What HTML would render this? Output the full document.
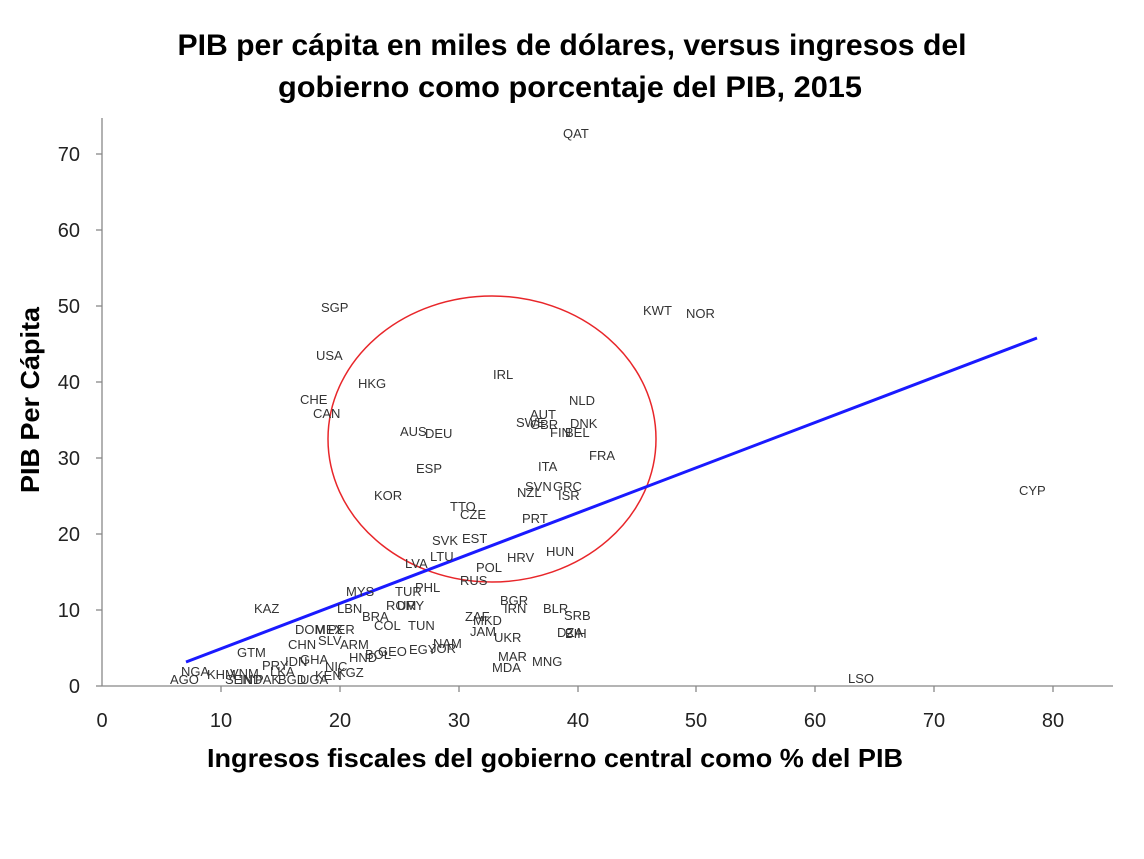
<!DOCTYPE html><html><head><meta charset="utf-8"><style>body{margin:0;background:#fff}svg{display:block}</style></head><body>
<svg width="1144" height="859" xmlns="http://www.w3.org/2000/svg" font-family="Liberation Sans, sans-serif">
<text x="572" y="55" font-size="30" font-weight="bold" text-anchor="middle" fill="#000" textLength="789" lengthAdjust="spacingAndGlyphs">PIB per cápita en miles de dólares, versus ingresos del</text>
<text x="570" y="97" font-size="30" font-weight="bold" text-anchor="middle" fill="#000" textLength="584" lengthAdjust="spacingAndGlyphs">gobierno como porcentaje del PIB, 2015</text>
<g stroke="#888" stroke-width="1.3">
<line x1="102" y1="118" x2="102" y2="686"/><line x1="102" y1="686" x2="1113" y2="686"/>
<line x1="96" y1="154" x2="102" y2="154"/><line x1="96" y1="230" x2="102" y2="230"/><line x1="96" y1="306" x2="102" y2="306"/><line x1="96" y1="382" x2="102" y2="382"/><line x1="96" y1="458" x2="102" y2="458"/><line x1="96" y1="534" x2="102" y2="534"/><line x1="96" y1="610" x2="102" y2="610"/><line x1="96" y1="686" x2="102" y2="686"/>
<line x1="221" y1="686" x2="221" y2="692"/><line x1="340" y1="686" x2="340" y2="692"/><line x1="459" y1="686" x2="459" y2="692"/><line x1="578" y1="686" x2="578" y2="692"/><line x1="696" y1="686" x2="696" y2="692"/><line x1="815" y1="686" x2="815" y2="692"/><line x1="934" y1="686" x2="934" y2="692"/><line x1="1053" y1="686" x2="1053" y2="692"/>
</g>
<g font-size="20" fill="#222" text-anchor="end">
<text x="80" y="161">70</text><text x="80" y="237">60</text><text x="80" y="313">50</text><text x="80" y="389">40</text><text x="80" y="465">30</text><text x="80" y="541">20</text><text x="80" y="617">10</text><text x="80" y="693">0</text>
</g>
<g font-size="20" fill="#222" text-anchor="middle">
<text x="102" y="727">0</text><text x="221" y="727">10</text><text x="340" y="727">20</text><text x="459" y="727">30</text><text x="578" y="727">40</text><text x="696" y="727">50</text><text x="815" y="727">60</text><text x="934" y="727">70</text><text x="1053" y="727">80</text>
</g>
<text x="555" y="767" font-size="26" font-weight="bold" text-anchor="middle" textLength="696" lengthAdjust="spacingAndGlyphs">Ingresos fiscales del gobierno central como % del PIB</text>
<text transform="translate(39,400) rotate(-90)" font-size="26" font-weight="bold" text-anchor="middle" textLength="186" lengthAdjust="spacingAndGlyphs">PIB Per Cápita</text>
<ellipse cx="492" cy="439" rx="164" ry="143" fill="none" stroke="#e8262a" stroke-width="1.5"/>
<line x1="186" y1="662" x2="1037" y2="338" stroke="#1a1aff" stroke-width="3"/>
<g font-size="13" fill="#333">
<text x="563" y="138">QAT</text><text x="321" y="312">SGP</text><text x="643" y="315">KWT</text><text x="686" y="318">NOR</text>
<text x="316" y="360">USA</text><text x="493" y="379">IRL</text><text x="358" y="388">HKG</text><text x="569" y="405">NLD</text>
<text x="300" y="404">CHE</text><text x="313" y="418">CAN</text><text x="530" y="419">AUT</text><text x="516" y="427">SWE</text><text x="530" y="429">GBR</text><text x="570" y="428">DNK</text><text x="550" y="437">FIN</text><text x="565" y="437">BEL</text>
<text x="400" y="436">AUS</text><text x="425" y="438">DEU</text><text x="589" y="460">FRA</text><text x="538" y="471">ITA</text><text x="416" y="473">ESP</text>
<text x="517" y="497">NZL</text><text x="525" y="491">SVN</text><text x="553" y="491">GRC</text><text x="558" y="500">ISR</text><text x="1019" y="495">CYP</text><text x="374" y="500">KOR</text>
<text x="450" y="511">TTO</text><text x="460" y="519">CZE</text><text x="522" y="523">PRT</text><text x="432" y="545">SVK</text><text x="462" y="543">EST</text><text x="546" y="556">HUN</text><text x="507" y="562">HRV</text>
<text x="405" y="568">LVA</text><text x="430" y="561">LTU</text><text x="476" y="572">POL</text><text x="460" y="585">RUS</text>
<text x="346" y="596">MYS</text><text x="395" y="596">TUR</text><text x="415" y="592">PHL</text><text x="254" y="613">KAZ</text><text x="337" y="613">LBN</text><text x="386" y="610">ROM</text><text x="397" y="610">URY</text>
<text x="500" y="605">BGR</text><text x="504" y="613">IRN</text><text x="543" y="613">BLR</text><text x="564" y="620">SRB</text><text x="362" y="621">BRA</text>
<text x="465" y="621">ZAF</text><text x="473" y="625">MKD</text><text x="374" y="630">COL</text><text x="408" y="630">TUN</text>
<text x="295" y="634">DOM</text><text x="315" y="634">MEX</text><text x="328" y="634">PER</text><text x="470" y="636">JAM</text><text x="494" y="642">UKR</text><text x="557" y="637">DZA</text><text x="565" y="638">BIH</text>
<text x="288" y="649">CHN</text><text x="318" y="645">SLV</text><text x="340" y="649">ARM</text><text x="349" y="662">HND</text><text x="365" y="659">BOL</text><text x="378" y="656">GEO</text><text x="409" y="654">EGY</text><text x="430" y="653">JOR</text><text x="433" y="648">NAM</text>
<text x="498" y="661">MAR</text><text x="492" y="672">MDA</text><text x="532" y="666">MNG</text><text x="237" y="657">GTM</text><text x="848" y="683">LSO</text>
<text x="181" y="676">NGA</text><text x="170" y="684">AGO</text><text x="207" y="679">KHM</text><text x="225" y="684">SEN</text><text x="240" y="684">IND</text><text x="255" y="684">PAK</text><text x="262" y="670">PRY</text><text x="270" y="676">LKA</text><text x="285" y="666">IDN</text><text x="300" y="664">GHA</text>
<text x="278" y="684">BGD</text><text x="300" y="684">UGA</text><text x="315" y="680">KEN</text><text x="325" y="671">NIC</text><text x="337" y="677">KGZ</text><text x="230" y="678">VNM</text>
</g>
</svg></body></html>
